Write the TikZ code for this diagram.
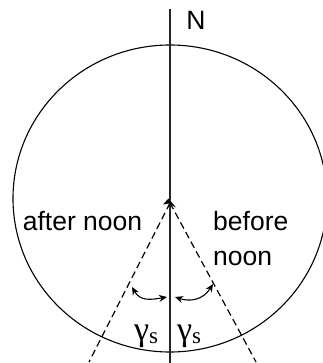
\documentclass[tikz,border=0pt]{standalone}
\usepackage{fontspec}
\setmainfont{Liberation Sans}
\newfontfamily\serifg{Liberation Serif}
\usetikzlibrary{arrows.meta}
\begin{document}
\begin{tikzpicture}[x=1pt,y=-1pt,
  lbl/.style={inner sep=0pt,font=\fontsize{26.5}{35}\selectfont},
  gam/.style={inner sep=0pt,anchor=base west,font=\serifg\fontsize{34}{34}\selectfont},
  dline/.style={line width=1.2pt,dash pattern=on 7pt off 4pt},
  swing/.style={line width=1.1pt,{Stealth[length=8pt,width=7pt]}-{Stealth[length=8pt,width=7pt]}}]
\useasboundingbox (0,0) rectangle (322,363);
\coordinate (c) at (170,198.5);
\coordinate (top) at (170,9);
\coordinate (bot) at (170,363);
\coordinate (apex) at (170,203);
\coordinate (dl) at (89,362);
\coordinate (dr) at (256,362);
% circle
\draw[line width=1.1pt] (c) ellipse [x radius=157pt, y radius=153.5pt];
% vertical line
\draw[line width=1.2pt,black!85] (top) -- (bot);
% dashed lines
\draw[dline] (apex) -- (dl);
\draw[dline] (apex) -- (dr);
% apex marker
\fill (168.5,198.5) -- (163,204.5) -- (168.5,203.5) -- (176,207.5) -- cycle;
% labels
\node[lbl,anchor=base] (N) at (196,30) {N};
\node[lbl,anchor=base] (after) at (82.5,230) {after noon};
\node[lbl,anchor=north west,align=left] (before) at (213,211) {before\\noon};
% gamma labels
\node[gam] (g1) at (134,340) {γ\raisebox{-0.1em}{\fontsize{23}{23}\selectfont s}};
\node[gam] (g2) at (177,340) {γ\raisebox{-0.1em}{\fontsize{23}{23}\selectfont s}};
% swing arrows
\coordinate (a1s) at (132,287);
\coordinate (a1e) at (167,297);
\coordinate (a2s) at (175,297);
\coordinate (a2e) at (213,284);
\draw[swing] (a1s) .. controls (140,301) and (150,300) .. (a1e);
\draw[swing] (a2s) .. controls (190,302) and (203,300) .. (a2e);
\end{tikzpicture}
\end{document}
